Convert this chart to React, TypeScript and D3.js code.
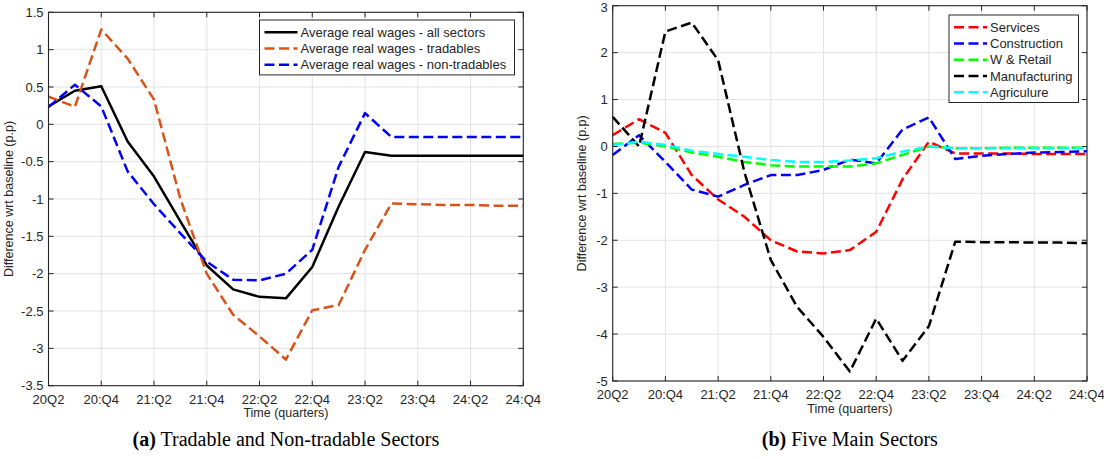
import React from 'react';
import * as d3 from 'd3';

// ---------- data ----------
const quarterIndex = d3.range(0, 19); // 20Q2 .. 24Q4
const xTickIndex = [0, 2, 4, 6, 8, 10, 12, 14, 16, 18];
const xTickLabels = ['20Q2', '20:Q4', '21:Q2', '21:Q4', '22:Q2', '22:Q4', '23:Q2', '23:Q4', '24:Q2', '24:Q4'];

const leftYTicks = [1.5, 1, 0.5, 0, -0.5, -1, -1.5, -2, -2.5, -3, -3.5];
const rightYTicks = [3, 2, 1, 0, -1, -2, -3, -4, -5];

const allSectors = [0.24, 0.45, 0.51, -0.23, -0.70, -1.30, -1.89, -2.21, -2.31, -2.33, -1.91, -1.10, -0.37, -0.42, -0.42, -0.42, -0.42, -0.42, -0.42];
const tradables = [0.37, 0.235, 1.27, 0.88, 0.33, -1.0, -2.0, -2.55, -2.84, -3.15, -2.49, -2.42, -1.68, -1.06, -1.07, -1.08, -1.08, -1.09, -1.09];
const nonTradables = [0.23, 0.53, 0.24, -0.63, -1.07, -1.46, -1.84, -2.08, -2.09, -2.0, -1.68, -0.57, 0.15, -0.17, -0.17, -0.17, -0.17, -0.17, -0.17];

const services = [0.24, 0.58, 0.29, -0.61, -1.13, -1.5, -2.0, -2.24, -2.28, -2.21, -1.82, -0.7, 0.1, -0.15, -0.15, -0.15, -0.16, -0.16, -0.16];
const construction = [-0.18, 0.24, -0.33, -0.92, -1.07, -0.82, -0.61, -0.61, -0.5, -0.28, -0.36, 0.36, 0.62, -0.27, -0.2, -0.16, -0.13, -0.12, -0.1];
const wRetail = [0.05, 0.08, 0.0, -0.13, -0.22, -0.33, -0.40, -0.43, -0.43, -0.43, -0.36, -0.18, 0.0, -0.04, -0.04, -0.03, -0.03, -0.03, -0.03];
const manufacturing = [0.63, 0.0, 2.45, 2.64, 1.84, -0.55, -2.42, -3.42, -4.06, -4.8, -3.67, -4.57, -3.83, -2.03, -2.04, -2.04, -2.05, -2.05, -2.06];
const agriculture = [0.03, 0.1, 0.03, -0.09, -0.16, -0.22, -0.29, -0.33, -0.33, -0.30, -0.25, -0.11, 0.0, -0.04, -0.04, -0.04, -0.04, -0.04, -0.04];

const leftSeriesNames = ['Average real wages - all sectors', 'Average real wages - tradables', 'Average real wages - non-tradables'];
const rightSeriesNames = ['Services', 'Construction', 'W & Retail', 'Manufacturing', 'Agriculure'];

// ---------- styling ----------
const AX = '#262626';
const GRID = '#e3e3e3';
const SANS = '"Liberation Sans", Arial, Helvetica, sans-serif';
const SERIF = '"Liberation Serif", "DejaVu Serif", serif';

type Series = { name: string; values: number[]; color: string; dash?: string };

type PanelProps = {
  x0: number; x1: number; yTop: number; yBot: number;
  yDomain: [number, number]; yTicks: number[]; series: Series[];
  legend: { x: number; y: number; w: number; rowH: number; sample: number };
  xLabelY: number; yLabelX: number; caption: [string, string]; captionY: number;
};

function Panel(p: PanelProps) {
  const x = d3.scaleLinear().domain([0, 18]).range([p.x0, p.x1]);
  const y = d3.scaleLinear().domain(p.yDomain).range([p.yBot, p.yTop]);
  const line = d3.line<number>().x((_, i) => x(quarterIndex[i])).y((d) => y(d));
  const tick = 5;
  const cx = (p.x0 + p.x1) / 2;
  const cy = (p.yTop + p.yBot) / 2;
  const lg = p.legend;
  const lgH = lg.rowH * p.series.length + 6;
  const lw = 2.5;
  return (
    <g>
      {/* grid */}
      {xTickIndex.map((t) => (
        <line key={'gx' + t} x1={x(t)} x2={x(t)} y1={p.yTop} y2={p.yBot} stroke={GRID} strokeWidth={1} />
      ))}
      {p.yTicks.map((t) => (
        <line key={'gy' + t} x1={p.x0} x2={p.x1} y1={y(t)} y2={y(t)} stroke={GRID} strokeWidth={1} />
      ))}
      {/* lines */}
      {p.series.map((s) => (
        <path key={s.name} d={line(s.values) || ''} fill="none" stroke={s.color} strokeWidth={lw}
          strokeDasharray={s.dash} strokeLinejoin="round" />
      ))}
      {/* box */}
      <rect x={p.x0} y={p.yTop} width={p.x1 - p.x0} height={p.yBot - p.yTop} fill="none" stroke={AX} strokeWidth={1.1} />
      {xTickIndex.map((t) => (
        <g key={'tx' + t}>
          <line x1={x(t)} x2={x(t)} y1={p.yBot} y2={p.yBot - tick} stroke={AX} strokeWidth={1} />
          <line x1={x(t)} x2={x(t)} y1={p.yTop} y2={p.yTop + tick} stroke={AX} strokeWidth={1} />
        </g>
      ))}
      {p.yTicks.map((t) => (
        <g key={'ty' + t}>
          <line x1={p.x0} x2={p.x0 + tick} y1={y(t)} y2={y(t)} stroke={AX} strokeWidth={1} />
          <line x1={p.x1} x2={p.x1 - tick} y1={y(t)} y2={y(t)} stroke={AX} strokeWidth={1} />
        </g>
      ))}
      {/* tick labels */}
      {xTickIndex.map((t, i) => (
        <text key={'lx' + t} x={x(t)} y={p.yBot + 18} textAnchor="middle" fontFamily={SANS} fontSize={13} fill={AX}>
          {xTickLabels[i]}
        </text>
      ))}
      {p.yTicks.map((t) => (
        <text key={'ly' + t} x={p.x0 - 5} y={Math.max(y(t), 7)} dy="0.36em" textAnchor="end" fontFamily={SANS} fontSize={13} fill={AX}>
          {String(t)}
        </text>
      ))}
      <text x={cx} y={p.xLabelY} textAnchor="middle" fontFamily={SANS} fontSize={12.5} fill={AX}>Time (quarters)</text>
      <text transform={`translate(${p.yLabelX},${cy}) rotate(-90)`} textAnchor="middle" fontFamily={SANS} fontSize={12.5} fill={AX}>
        Difference wrt baseline (p.p)
      </text>
      {/* legend */}
      <rect x={lg.x} y={lg.y} width={lg.w} height={lgH} fill="#fff" stroke={AX} strokeWidth={1} />
      {p.series.map((s, i) => {
        const ry = lg.y + 3 + lg.rowH * (i + 0.5) + 1;
        return (
          <g key={'lg' + s.name}>
            <line x1={lg.x + 5} x2={lg.x + 5 + lg.sample} y1={ry} y2={ry} stroke={s.color} strokeWidth={lw} strokeDasharray={s.dash} />
            <text x={lg.x + lg.sample + 8} y={ry} dy="0.36em" fontFamily={SANS} fontSize={13} fill={AX}>{s.name}</text>
          </g>
        );
      })}
      {/* caption */}
      <text x={cx} y={p.captionY} textAnchor="middle" fontFamily={SERIF} fontSize={20} fill="#000">
        <tspan fontWeight="bold">{p.caption[0]}</tspan>
        <tspan>{' ' + p.caption[1]}</tspan>
      </text>
    </g>
  );
}

export default function App() {
  const dash = '10,4.5';
  const leftSeries: Series[] = [
    { name: leftSeriesNames[0], values: allSectors, color: '#000000' },
    { name: leftSeriesNames[1], values: tradables, color: '#D95319', dash },
    { name: leftSeriesNames[2], values: nonTradables, color: '#0000FF', dash },
  ];
  const rightSeries: Series[] = [
    { name: rightSeriesNames[0], values: services, color: '#FF0000', dash },
    { name: rightSeriesNames[1], values: construction, color: '#0000FF', dash },
    { name: rightSeriesNames[2], values: wRetail, color: '#00FF00', dash },
    { name: rightSeriesNames[3], values: manufacturing, color: '#000000', dash },
    { name: rightSeriesNames[4], values: agriculture, color: '#00FFFF', dash },
  ];
  return (
    <svg width={1104} height={459} style={{ position: 'absolute', left: 0, top: 0, background: '#fff' }}>
      <rect width={1104} height={459} fill="#fff" />
      <Panel x0={48.5} x1={523.3} yTop={12.3} yBot={385.7} yDomain={[-3.5, 1.5]} yTicks={leftYTicks}
        series={leftSeries} legend={{ x: 259.5, y: 20, w: 255, rowH: 16.3, sample: 33 }}
        xLabelY={417} yLabelX={13} caption={['(a)', 'Tradable and Non-tradable Sectors']} captionY={446} />
      <Panel x0={612.7} x1={1087} yTop={5.7} yBot={381} yDomain={[-5, 3]} yTicks={rightYTicks}
        series={rightSeries} legend={{ x: 949, y: 15, w: 129.5, rowH: 16.3, sample: 33 }}
        xLabelY={413} yLabelX={586} caption={['(b)', 'Five Main Sectors']} captionY={446} />
    </svg>
  );
}
